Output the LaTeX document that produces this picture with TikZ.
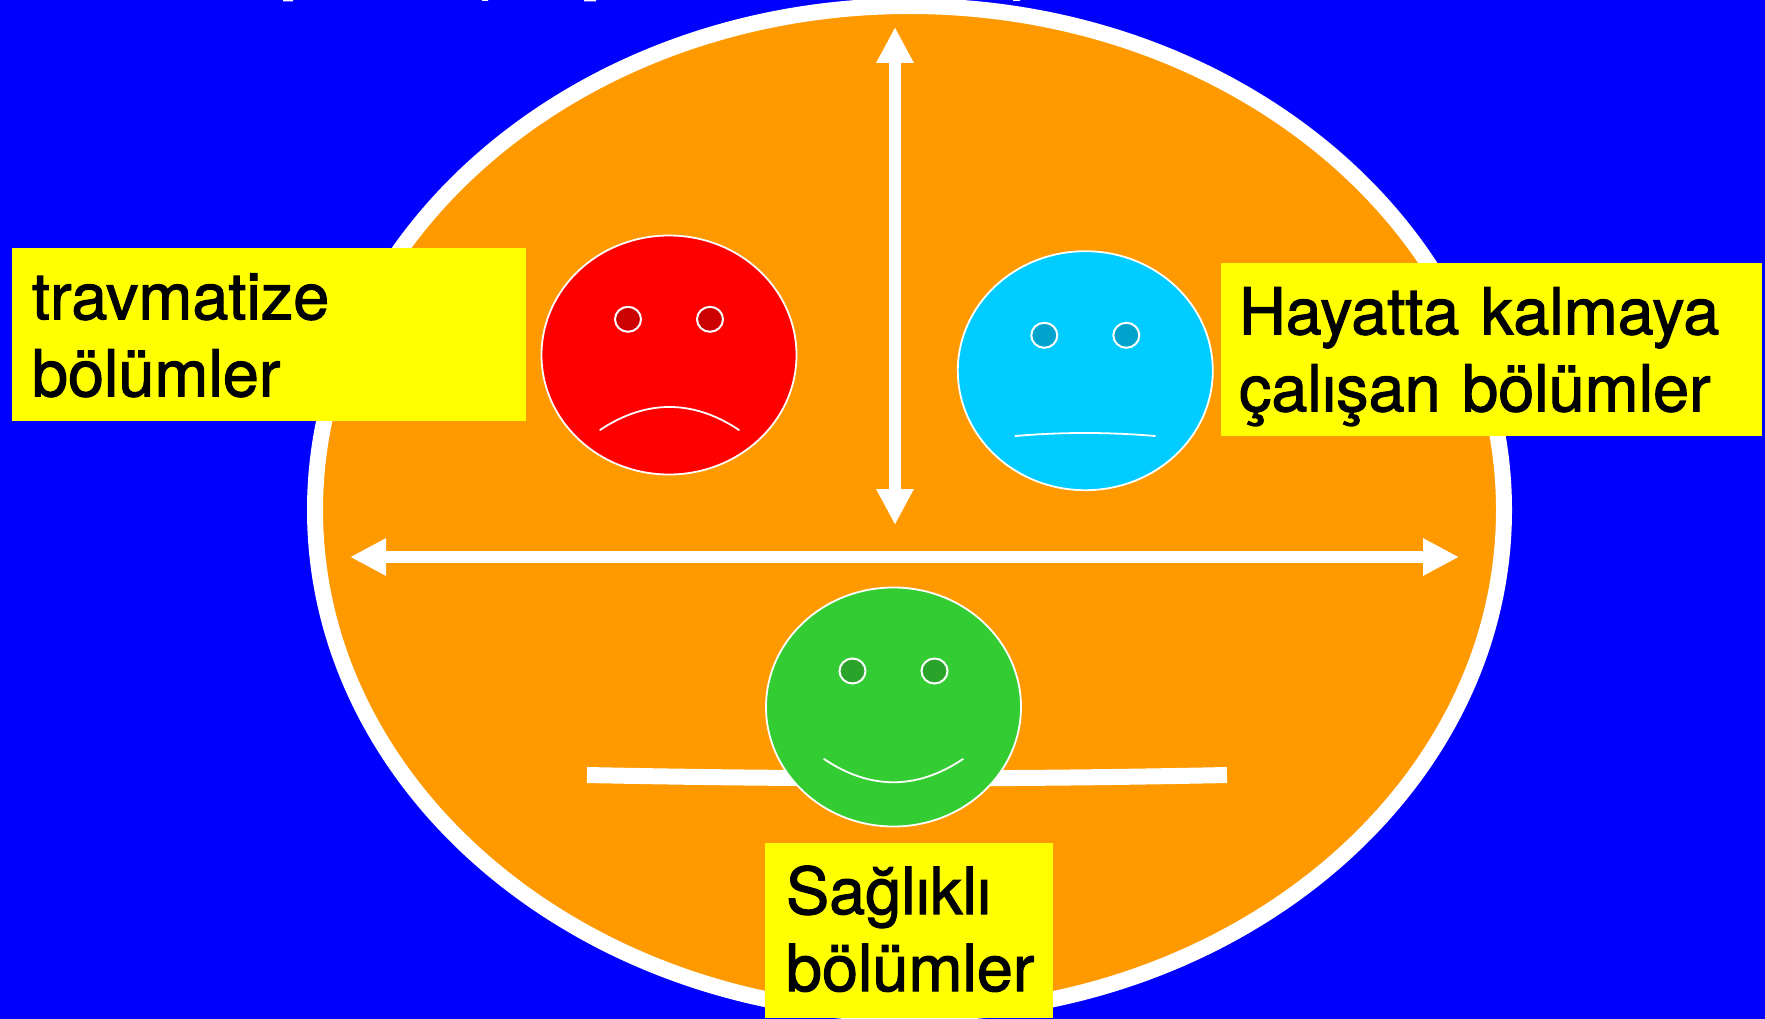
\documentclass[tikz,border=0pt]{standalone}
\usepackage{fontspec}
\setmainfont[RawFeature={embolden=1.6}]{TeX Gyre Heros}
\usetikzlibrary{shapes.geometric,arrows.meta}
\definecolor{bgblue}{HTML}{0000FF}
\definecolor{disc}{HTML}{FF9900}
\definecolor{lab}{HTML}{FFFF00}
\definecolor{redf}{HTML}{FF0000}
\definecolor{rede}{HTML}{CC0000}
\definecolor{bluef}{HTML}{00CCFF}
\definecolor{bluee}{HTML}{00A3CC}
\definecolor{greenf}{HTML}{33CC33}
\definecolor{greene}{HTML}{29A329}
\tikzset{
 face/.style={ellipse,draw=white,line width=1.8pt,inner sep=0pt,minimum width=255pt,minimum height=239pt},
 eye/.style={ellipse,draw=white,line width=2pt,inner sep=0pt,minimum width=26pt,minimum height=25pt},
 mouth/.style={draw=white,line width=1.8pt,line cap=round},
 label/.style={fill=lab,anchor=north west,inner sep=0pt,outer sep=0pt,font=\fontsize{64.8}{77}\selectfont,align=left,text=black},
 bigarrow/.style={draw=white,fill=white,line width=12.5pt,{Triangle[length=36pt,width=35pt]}-{Triangle[length=36pt,width=35pt]}}
}
\begin{document}
\begin{tikzpicture}[x=1pt,y=-1pt]
\useasboundingbox (0,0) rectangle (1765,1019);
\fill[bgblue] (0,0) rectangle (1765,1019);
\begin{scope}
\clip (0,0) rectangle (1765,1019);
\node[ellipse,fill=disc,draw=white,line width=16pt,inner sep=0pt,minimum width=1189pt,minimum height=1008pt] (disc) at (909.5,510) {};
\fill[white] (283,0) rectangle (293,1.3) (482,0) rectangle (488,1) (584,0) rectangle (596,1.3) (1013,0) rectangle (1020,1);
\end{scope}
\coordinate (vtop) at (895,27);
\coordinate (vbot) at (895,525);
\coordinate (hl) at (350,557);
\coordinate (hr) at (1459,557);
\draw[bigarrow] (vtop) -- (vbot);
\draw[bigarrow] (hl) -- (hr);
\coordinate (barl) at (587,775);
\coordinate (barr) at (1227,775);
\draw[white,line width=16pt] (barl) .. controls (800,779.5) and (1014,779.5) .. (barr);
% red face
\node[face,fill=redf] (rf) at (669,355) {};
\node[eye,fill=rede] (re1) at (628,319.3) {};
\node[eye,fill=rede] (re2) at (710,319.3) {};
\coordinate (rm1) at (600,430);
\coordinate (rm2) at (739,430);
\draw[mouth] (rm1) .. controls (646,399.3) and (693,399.3) .. (rm2);
% blue face
\node[face,fill=bluef] (bf) at (1085.3,370.7) {};
\node[eye,fill=bluee] (be1) at (1044.3,335.3) {};
\node[eye,fill=bluee] (be2) at (1126.3,335.3) {};
\coordinate (bm1) at (1015.3,436);
\coordinate (bm2) at (1155,436);
\draw[mouth] (bm1) .. controls (1062,432) and (1108,432) .. (bm2);
% green face
\node[face,fill=greenf] (gf) at (893.5,707) {};
\node[eye,fill=greene] (ge1) at (852.5,671) {};
\node[eye,fill=greene] (ge2) at (934.5,671) {};
\coordinate (gm1) at (824,759);
\coordinate (gm2) at (963,759);
\draw[mouth] (gm1) .. controls (870,790) and (917,790) .. (gm2);
% labels
\node[label,text width=514pt,minimum height=173pt,text height=71.3pt,text depth=101.7pt] (lt) at (12,248) {\hspace*{20pt}travmatize\\\hspace*{20pt}bölümler};
\node[label,text width=541pt,minimum height=173pt,text height=71.3pt,text depth=101.7pt] (lh) at (1221,263) {\hspace*{18pt}Hayatta kalmaya\\\hspace*{18pt}çalışan bölümler};
\node[label,text width=288pt,minimum height=175pt,text height=71pt,text depth=104pt] (ls) at (765,843) {\hspace*{21pt}Sağlıklı\\\hspace*{21pt}bölümler};
\end{tikzpicture}
\end{document}
